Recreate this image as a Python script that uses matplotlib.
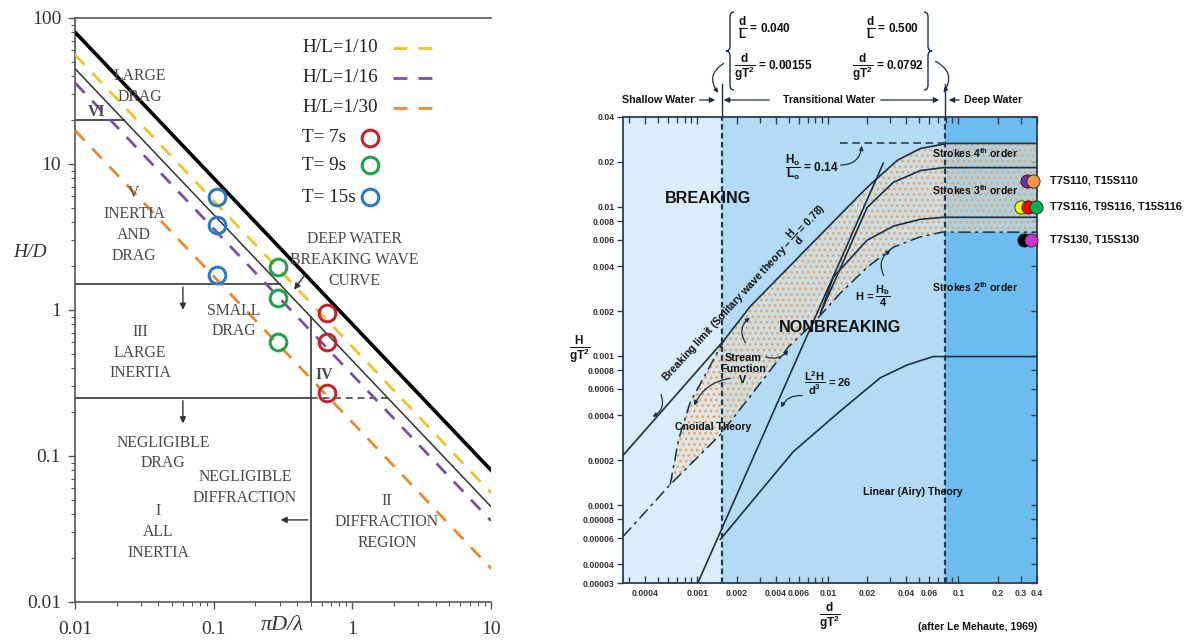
import numpy as np
import matplotlib
matplotlib.use("Agg")
import matplotlib.pyplot as plt
from matplotlib.patches import Polygon, PathPatch, FancyArrowPatch
from matplotlib.path import Path
from matplotlib.ticker import LogLocator, NullLocator, NullFormatter

W, H = 1189, 644
SERIF = ["Liberation Serif", "DejaVu Serif"]
SANS = ["Liberation Sans Narrow", "Liberation Sans", "DejaVu Sans"]

plt.rcParams["mathtext.fontset"] = "custom"
plt.rcParams["mathtext.bf"] = "Liberation Sans:bold"
plt.rcParams["mathtext.rm"] = "Liberation Sans:bold"
plt.rcParams["mathtext.default"] = "bf"
plt.rcParams["hatch.linewidth"] = 1.15

# ---------------- left panel: force regimes, H/D against pi D / lambda ----------------
pid_ends = [0.01, 10]
hd_breaking = [80, 0.08]            # deep water breaking wave curve
hd_limit = [45, 0.045]              # thin regime boundary
steep_labels = ["H/L=1/10", "H/L=1/16", "H/L=1/30"]
hd_steep = [[56, 0.056], [36, 0.036], [17, 0.017]]
steep_colors = ["#f2c12e", "#7a4fa8", "#e8892e"]

period_labels = ["T= 7s", "T= 9s", "T= 15s"]
period_colors = ["#c2252b", "#22a24c", "#2b7bbd"]
period_pid = [0.66, 0.29, 0.105]
period_hd = [[0.95, 0.6, 0.27], [1.97, 1.21, 0.6], [5.9, 3.8, 1.74]]

hd_vi = 20
hd_drag = 1.5
hd_inertia = 0.25
pid_diffraction = 0.5

# ---------------- right panel: wave theory validity ----------------
shallow_limit = 0.00155
deep_limit = 0.0792
xr_lim = (0.00027, 0.4)
yr_lim = (0.00003, 0.04)

brk_x = [0.00027, 0.0016, 0.00255, 0.00774, 0.0200, 0.0341, 0.0512, 0.0824, 0.4]
brk_y = [0.000215, 0.00127, 0.00215, 0.0058, 0.0135, 0.0205, 0.0246, 0.0266, 0.0266]
h0l0_x = [0.0125, 0.0792]
h0l0_y = [0.0266, 0.0266]
hb4_x = [0.00027, 0.00062, 0.0015, 0.005, 0.00774, 0.0125, 0.0201, 0.0318, 0.05, 0.075, 0.4]
hb4_y = [0.0000615, 0.000137, 0.000296, 0.00115, 0.00166, 0.00264, 0.00394, 0.00536,
         0.00625, 0.00676, 0.00676]
cn_x = [0.00062, 0.00072, 0.00088, 0.0016]
cn_y = [0.000137, 0.000275, 0.000485, 0.00127]
urs_x = [0.00101, 0.0266]
urs_y = [0.00003, 0.0196]
s4_x = [0.0088, 0.0200, 0.0318, 0.0512, 0.077, 0.4]
s4_y = [0.00194, 0.0099, 0.0146, 0.0175, 0.0183, 0.0183]
s3_x = [0.0088, 0.011, 0.0200, 0.0318, 0.0512, 0.077, 0.4]
s3_y = [0.00194, 0.00337, 0.00597, 0.00742, 0.00824, 0.0085, 0.0085]
lin_x = [0.0015, 0.00544, 0.0125, 0.0252, 0.0406, 0.0643, 0.078, 0.4]
lin_y = [0.0000587, 0.000228, 0.000428, 0.000713, 0.00087, 0.00099, 0.00099, 0.00099]

case_labels = ["T7S110, T15S110", "T7S116, T9S116, T15S116", "T7S130, T15S130"]
case_y = [0.015, 0.01, 0.006]
case_x = [[0.338, 0.376], [0.304, 0.34, 0.39], [0.32, 0.36]]
case_colors = [["#7030a0", "#f79646"], ["#ffff00", "#ff0000", "#00b050"], ["#000000", "#cc33cc"]]

xr_ticks = [0.0004, 0.001, 0.002, 0.004, 0.006, 0.01, 0.02, 0.04, 0.06, 0.1, 0.2, 0.3, 0.4]
xr_labels = ["0.0004", "0.001", "0.002", "0.004", "0.006", "0.01", "0.02", "0.04", "0.06",
             "0.1", "0.2", "0.3", "0.4"]
yr_ticks = [0.04, 0.02, 0.01, 0.008, 0.006, 0.004, 0.002, 0.001, 0.0008, 0.0006, 0.0004,
            0.0002, 0.0001, 0.00008, 0.00006, 0.00004, 0.00003]
yr_labels = ["0.04", "0.02", "0.01", "0.008", "0.006", "0.004", "0.002", "0.001", "0.0008",
             "0.0006", "0.0004", "0.0002", "0.0001", "0.00008", "0.00006", "0.00004", "0.00003"]

fig = plt.figure(figsize=(W / 100, H / 100), dpi=100)


def fpx(x, y):
    # figure pixel (origin top-left) -> figure fraction
    return (x / W, 1 - y / H)


def ftext(x, y, s, **kw):
    return fig.text(*fpx(x, y), s, **kw)


def farrow(x0, y0, x1, y1, rad=0.0, color="#1c2f45", ms=7, lw=0.9):
    fig.add_artist(FancyArrowPatch(fpx(x0, y0), fpx(x1, y1), transform=fig.transFigure,
                                   arrowstyle="-|>", mutation_scale=ms, lw=lw, color=color,
                                   connectionstyle=f"arc3,rad={rad}"))


def brace(xc, y0, y1, w, side, color="#1c2f45"):
    s = -1 if side == "left" else 1
    ym = (y0 + y1) / 2
    r = 5
    pts = [(xc - s * w, y0), (xc, y0), (xc, y0 + r), (xc, ym - r), (xc, ym), (xc + s * w, ym),
           (xc, ym), (xc, ym + r), (xc, y1 - r), (xc, y1), (xc - s * w, y1)]
    codes = [Path.MOVETO, Path.CURVE3, Path.CURVE3, Path.LINETO, Path.CURVE3, Path.CURVE3,
             Path.CURVE3, Path.CURVE3, Path.LINETO, Path.CURVE3, Path.CURVE3]
    verts = [fpx(px, py) for px, py in pts]
    fig.add_artist(PathPatch(Path(verts, codes), transform=fig.transFigure,
                             fill=False, edgecolor=color, lw=1.0))


# ================= left panel =================
axl = fig.add_axes([75 / W, 1 - 602 / H, 416 / W, 584 / H])
axl.set_xscale("log")
axl.set_yscale("log")
axl.set_xlim(0.01, 10)
axl.set_ylim(0.01, 100)
for side in ("left", "bottom", "top"):
    axl.spines[side].set_color("#555555")
    axl.spines[side].set_linewidth(1.2)
axl.spines["right"].set_visible(False)
axl.tick_params(which="both", colors="#555555", direction="out")
axl.tick_params(which="major", length=5, width=1, labelsize=14, labelcolor="#333333")
axl.tick_params(axis="x", which="major", pad=9)
axl.tick_params(axis="y", which="major", pad=5)
axl.tick_params(which="minor", length=3, width=0.8)
axl.set_xticks([0.01, 0.1, 1, 10], ["0.01", "0.1", "1", "10"])
axl.set_yticks([0.01, 0.1, 1, 10, 100], ["0.01", "0.1", "1", "10", "100"])
axl.xaxis.set_minor_formatter(NullFormatter())
axl.yaxis.set_minor_formatter(NullFormatter())
for lab in axl.get_xticklabels() + axl.get_yticklabels():
    lab.set_fontfamily(SERIF)

thin_k = hd_limit[0] * pid_ends[0]
axl.plot(pid_ends, hd_breaking, color="black", lw=2.6, zorder=3)
axl.plot(pid_ends, hd_limit, color="#333333", lw=1.1, zorder=3)
for vals, col in zip(hd_steep, steep_colors):
    axl.plot(pid_ends, vals, color=col, lw=2, dashes=(5, 4), zorder=3)

bcol = "#444444"
axl.plot([0.01, thin_k / hd_vi], [hd_vi, hd_vi], color=bcol, lw=1.3)
axl.plot([0.01, thin_k / hd_drag], [hd_drag, hd_drag], color=bcol, lw=1.3)
axl.plot([0.01, pid_diffraction], [hd_inertia, hd_inertia], color=bcol, lw=1.3)
axl.plot([pid_diffraction, thin_k / hd_inertia], [hd_inertia, hd_inertia], color=bcol, lw=1.2,
         dashes=(4, 3))
axl.plot([pid_diffraction, pid_diffraction], [0.01, thin_k / pid_diffraction], color=bcol, lw=1.3)

for xv, yv, col in zip(period_pid, period_hd, period_colors):
    axl.plot([xv] * len(yv), yv, ls="none", marker="o", ms=12, mfc="none", mec=col, mew=2.2,
             zorder=5)

# regime arrows
akw = dict(arrowstyle="-|>", color="#333333", lw=1.0, mutation_scale=9)
axl.annotate("", xy=(0.06, 0.96), xytext=(0.06, hd_drag), arrowprops=akw)
axl.annotate("", xy=(0.06, 0.16), xytext=(0.06, hd_inertia), arrowprops=akw)
axl.annotate("", xy=(0.29, 0.0365), xytext=(pid_diffraction, 0.0365), arrowprops=akw)
axl.annotate("", xy=(0.37, 1.33), xytext=(0.47, 1.82), arrowprops=akw)

tkw = dict(ha="center", va="center", fontsize=11.3, color="#4a4a4a", family=SERIF,
           linespacing=1.4)
axl.text(0.0294, 34, "LARGE\nDRAG", **tkw)
axl.text(0.0144, 22.7, "VI", fontweight="bold", **tkw)
axl.text(0.0266, 3.84, "V\nINERTIA\nAND\nDRAG", **tkw)
axl.text(1.04, 2.2, "DEEP WATER\nBREAKING WAVE\nCURVE", **tkw)
axl.text(0.14, 0.84, "SMALL\nDRAG", **tkw)
axl.text(0.0294, 0.51, "III\nLARGE\nINERTIA", **tkw)
axl.text(0.63, 0.36, "IV", fontweight="bold", **tkw)
axl.text(0.043, 0.105, "NEGLIGIBLE\nDRAG", **tkw)
axl.text(0.168, 0.0605, "NEGLIGIBLE\nDIFFRACTION", **tkw)
axl.text(0.0397, 0.0302, "I\nALL\nINERTIA", **tkw)
axl.text(1.78, 0.0354, "II\nDIFFRACTION\nREGION", **tkw)

# legend drawn by hand: labels on the left, samples on the right
leg_rows = [48, 78, 108, 138, 165, 197]
leg_text_x = (302 - 75) / 416
leg_line = [(393 - 75) / 416, (442 - 75) / 416]
leg_mark_x = (370 - 75) / 416
for i, row in enumerate(leg_rows):
    ya = (602 - row) / 584
    if i < 3:
        axl.text(leg_text_x, ya, steep_labels[i], transform=axl.transAxes, ha="left",
                 va="center", fontsize=13.8, family=SERIF, color="#222222")
        axl.plot(leg_line, [ya, ya], transform=axl.transAxes, color=steep_colors[i], lw=2,
                 dashes=(5, 4), clip_on=False)
    else:
        j = i - 3
        axl.text(leg_text_x, ya, period_labels[j], transform=axl.transAxes, ha="left",
                 va="center", fontsize=13.8, family=SERIF, color="#222222")
        axl.plot([leg_mark_x], [ya], transform=axl.transAxes, ls="none", marker="o", ms=12,
                 mfc="none", mec=period_colors[j], mew=2.2, clip_on=False)

ftext(30, 253, "H/D", ha="center", va="center", fontsize=14, fontstyle="italic",
      family=SERIF, color="#333333")
ftext(282, 625, "\u03c0D/\u03bb", ha="center", va="center", fontsize=16, fontstyle="italic",
      family=SERIF, color="#333333")

# ================= right panel =================
ink = "#1c2f45"
axr = fig.add_axes([623 / W, 1 - 583 / H, 414 / W, 466 / H])
axr.set_xscale("log")
axr.set_yscale("log")
axr.set_xlim(*xr_lim)
axr.set_ylim(*yr_lim)

axr.axvspan(xr_lim[0], shallow_limit, color="#d9edfb", zorder=0)
axr.axvspan(shallow_limit, deep_limit, color="#b3dbf6", zorder=0)
axr.axvspan(deep_limit, xr_lim[1], color="#6cbcf0", zorder=0)

# stippled band between the breaking limit and H = Hb/4
band_x = brk_x[1:] + hb4_x[:0:-1] + cn_x[1:-1]
band_y = brk_y[1:] + hb4_y[:0:-1] + cn_y[1:-1]
band = np.column_stack([band_x, band_y])
axr.add_patch(Polygon(band, closed=True, facecolor="#e6e0d0", edgecolor="none", alpha=0.55,
                      zorder=1))
axr.add_patch(Polygon(band, closed=True, facecolor="none", edgecolor="#e2a66c", hatch="...",
                      linewidth=0, zorder=1.1))

lkw = dict(color=ink, lw=1.2, zorder=3)
axr.plot(brk_x, brk_y, **lkw)
axr.plot(h0l0_x, h0l0_y, color=ink, lw=1.1, dashes=(5, 3), zorder=3)
axr.plot(hb4_x, hb4_y, color=ink, lw=1.1, dashes=(8, 3, 2, 3), zorder=3)
axr.plot(cn_x, cn_y, color=ink, lw=1.1, dashes=(8, 3, 2, 3), zorder=3)
axr.plot(urs_x, urs_y, **lkw)
axr.plot(s4_x, s4_y, **lkw)
axr.plot(s3_x, s3_y, **lkw)
axr.plot(lin_x, lin_y, **lkw)

for xv in (shallow_limit, deep_limit):
    axr.axvline(xv, color="#213a57", lw=1.6, dashes=(2.5, 1.5), zorder=4)
    axr.plot([xv, xv], [1.0, 1.07], transform=axr.get_xaxis_transform(), color=ink, lw=1.0,
             clip_on=False)

for xs, yv, cols in zip(case_x, case_y, case_colors):
    for xv, col in zip(xs, cols):
        axr.plot([xv], [yv], ls="none", marker="o", ms=9.5, mfc=col, mec="#222222", mew=0.6,
                 zorder=6, clip_on=False)
for yv, lab in zip(case_y, case_labels):
    axr.annotate(lab, xy=(1.0, yv), xycoords=("axes fraction", "data"), xytext=(9.5, 0),
                 textcoords="offset points", ha="left", va="center", fontsize=7.9,
                 fontweight="bold", family=SANS, color="#111111")

for side in axr.spines.values():
    side.set_color("#2d3e50")
    side.set_linewidth(1.3)
tick_font = dict(fontsize=6.3, fontweight="bold", family=SANS, color="#333333")
axr.set_xticks(xr_ticks, xr_labels, **tick_font)
axr.set_yticks(yr_ticks, yr_labels, **tick_font)
axr.xaxis.set_minor_locator(LogLocator(base=10, subs=np.arange(2, 10) * 1.0, numticks=20))
axr.xaxis.set_minor_formatter(NullFormatter())
axr.yaxis.set_minor_locator(NullLocator())
axr.tick_params(axis="x", which="both", direction="in", top=True, bottom=True,
                colors="#2d3e50", labelcolor="#333333")
axr.tick_params(axis="x", which="major", length=5, width=1, pad=4)
axr.tick_params(axis="x", which="minor", length=4, width=1)
axr.tick_params(axis="y", which="major", direction="out", length=4, width=1, pad=2,
                colors="#2d3e50", labelcolor="#333333")
sec = axr.secondary_yaxis("right")
sec.set_yticks(yr_ticks, [""] * len(yr_ticks))
sec.yaxis.set_minor_locator(NullLocator())
sec.tick_params(direction="in", length=4, width=1, colors="#2d3e50")
sec.spines["right"].set_visible(False)

# region names and curve labels
bkw = dict(ha="center", va="center", fontweight="bold", family=SANS, color="#111111")
ftext(708, 199, "BREAKING", fontsize=11.6, **bkw)
ftext(840, 328, "NONBREAKING", fontsize=11.6, **bkw)
ftext(812, 167, r"$\dfrac{H_o}{L_o}$ = 0.14", fontsize=8.5, **bkw)
ftext(975, 153, r"Strokes 4$^{th}$ order", fontsize=7.6, **bkw)
ftext(975, 190, r"Strokes 3$^{th}$ order", fontsize=7.6, **bkw)
ftext(975, 287, r"Strokes 2$^{th}$ order", fontsize=7.6, **bkw)
ftext(873, 296, r"H = $\dfrac{H_b}{4}$", fontsize=8, **bkw)
ftext(743, 369, "Stream\nFunction\nV", fontsize=7.8, linespacing=1.15, **bkw)
ftext(713, 427, "Cnoidal Theory", fontsize=7.6, **bkw)
ftext(828, 383, r"$\dfrac{L^2H}{d^3}$ = 26", fontsize=8, **bkw)
ftext(913, 492, "Linear (Airy) Theory", fontsize=7.6, **bkw)
ftext(978, 627, "(after Le Mehaute, 1969)", fontsize=7.6, **bkw)
ftext(744, 293, "Breaking limit (Solitary wave theory \u2013 $\\dfrac{H}{d}$ = 0.78)",
      fontsize=7.6, rotation=47.5, rotation_mode="anchor", **bkw)
ftext(830, 617, r"$\dfrac{d}{gT^2}$", fontsize=8.5, **bkw)
ftext(580, 350, r"$\dfrac{H}{gT^2}$", fontsize=8.5, **bkw)

# pointer arrows inside the chart
farrow(838, 165, 862, 143, rad=0.5, ms=6)
farrow(660, 392, 650, 418, rad=-0.5, ms=6)
farrow(763, 356, 790, 348, rad=0.4, ms=6)
farrow(733, 378, 693, 408, rad=0.3, ms=6)
farrow(747, 345, 752, 316, rad=-0.5, ms=6)
farrow(805, 396, 780, 410, rad=0.4, ms=6)
farrow(885, 278, 893, 249, rad=-0.5, ms=6)

# depth class header above the chart
hkw = dict(va="center", fontweight="bold", family=SANS, color="#111111", fontsize=7.7)
ftext(695, 100, "Shallow Water", ha="right", **hkw)
farrow(697, 100, 718, 100, ms=8)
farrow(772, 100, 721, 100, ms=8)
ftext(829, 100, "Transitional Water", ha="center", **hkw)
farrow(878, 100, 942, 100, ms=8)
farrow(962, 100, 946, 100, ms=8)
ftext(964, 100, "Deep Water", ha="left", **hkw)

brace(730, 12, 90, 4, "left")
brace(928, 12, 90, 4, "right")
farrow(726, 62, 720, 95, rad=0.6, ms=6)
farrow(933, 60, 942, 95, rad=-0.6, ms=6)
fkw = dict(hkw, fontsize=8.5)
ftext(738, 28, r"$\dfrac{d}{L}$ = 0.040", ha="left", **fkw)
ftext(734, 68, r"$\dfrac{d}{gT^2}$ = 0.00155", ha="left", **fkw)
ftext(866, 28, r"$\dfrac{d}{L}$ = 0.500", ha="left", **fkw)
ftext(852, 68, r"$\dfrac{d}{gT^2}$ = 0.0792", ha="left", **fkw)

fig.savefig("out.png", dpi=100, facecolor="white")
